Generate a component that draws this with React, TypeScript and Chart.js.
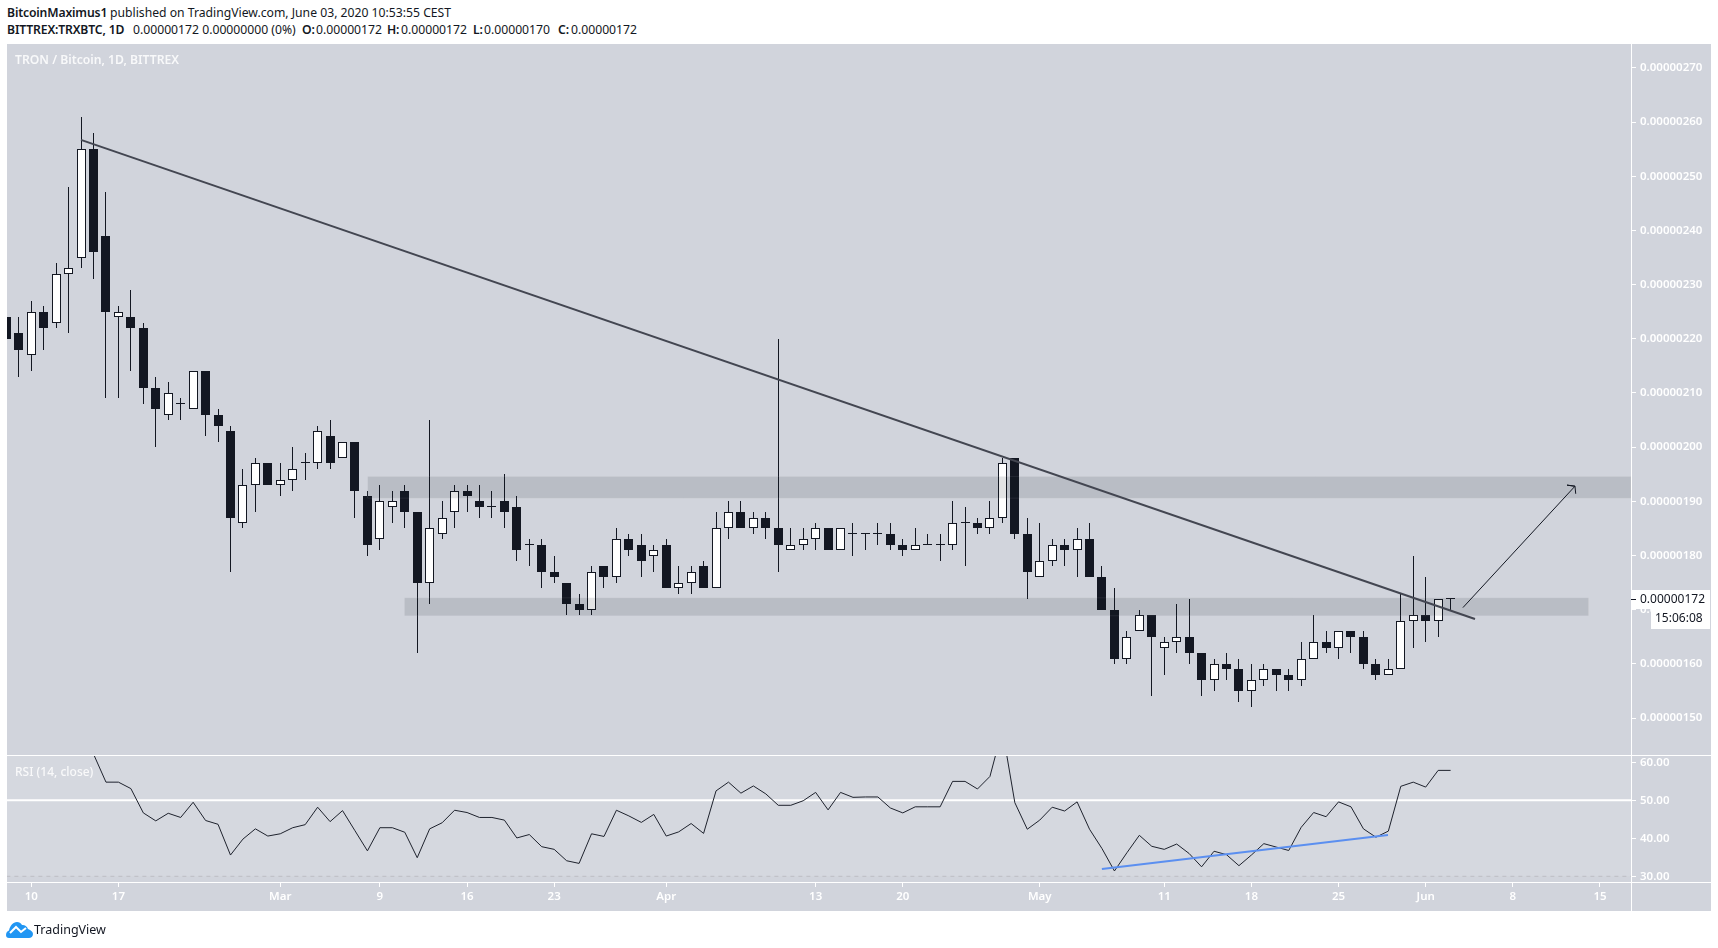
import React, { useEffect, useRef } from "react";
import { Chart, registerables } from "chart.js";

Chart.register(...registerables);

// All prices are in units of 0.00000001 BTC. Day 0 = 10 Feb 2020.
const firstDay = -2;
const opens = [224,221,217,225,223,232,235,255,239,224,224,222,211,206,208,207,214,206,203,186,193,197,193,194,197,197,202,198,201,191,183,189,192,188,175,184,188,192,190,189,190,189,182,182,177,175,171,170,178,176,183,182,180,182,174,175,178,174,185,188,185,187,185,181,182,183,185,181,184,184,184,184,182,181,182,182,182,186,186,185,187,198,184,176,179,182,181,183,176,170,161,166,169,163,164,165,162,157,160,159,155,157,159,158,157,161,164,163,166,165,160,158,159,168,169,168,172];
const highs = [225,224,227,226,234,248,261,258,247,226,229,223,213,212,209,214,214,207,204,196,198,197,197,200,199,204,205,201,201,192,193,192,193,188,205,190,193,193,193,192,195,191,183,183,180,175,173,178,178,185,184,184,182,183,178,178,179,188,190,190,188,188,220,185,185,186,185,185,186,184,186,186,183,185,184,184,190,189,187,190,198,198,187,186,183,183,185,186,178,174,166,170,169,165,171,172,162,161,162,161,160,160,159,159,164,169,166,166,166,166,161,161,173,180,176,172,172];
const lows = [217,213,214,218,222,221,233,231,209,209,214,208,200,205,205,207,202,201,177,185,188,193,191,192,194,196,196,198,187,180,181,186,185,162,171,183,185,188,187,187,185,179,178,174,175,169,169,169,174,175,180,176,177,174,173,173,174,174,183,185,184,183,177,181,181,181,181,181,180,181,182,181,180,181,182,179,181,178,184,184,186,183,172,176,178,178,176,176,170,160,160,166,154,158,162,160,154,155,157,153,152,156,155,155,156,161,162,161,162,159,157,158,159,163,164,165,170];
const closes = [220,218,225,222,232,233,255,236,225,225,222,211,207,210,208,214,206,204,187,193,197,193,194,196,197,203,197,201,192,182,190,190,188,175,185,187,192,191,189,189,188,181,182,177,176,171,170,177,176,183,181,179,181,174,175,177,174,185,188,185,187,185,182,182,183,185,181,185,184,184,184,182,181,182,182,182,186,186,185,187,197,184,177,179,182,181,183,176,170,161,165,169,165,164,165,162,157,160,159,155,157,159,158,157,161,164,163,166,165,160,158,159,168,169,168,172,172];

const rsiFirstDay = 4;
const rsiValues = [71,62.2,54.8,54.8,53.1,46.7,44.6,46.6,45.5,49.5,44.7,43.7,35.6,39.8,42.5,40.6,41.2,42.8,43.6,48.2,44.4,47.3,42,36.7,42.8,42.8,41.6,34.9,42.5,44.1,47.4,46.8,45.5,45.5,44.8,40.1,41,37.8,37.1,34.1,33.4,41.2,40.5,47.4,45.9,44.2,46.3,40.6,41.7,43.9,41.3,52.5,54.8,51.9,53.8,51.7,48.7,48.7,49.9,52.1,47.5,52.1,50.8,50.9,50.9,48,46.7,48.3,48.3,48.3,55,55,53,56.3,68.7,49.4,42.4,44.8,48.2,47.2,49.6,42.4,37.3,31.4,36.2,40.8,37.9,37.1,38.5,36,32.5,36.6,35.7,32.8,35.6,38.6,37.7,36.8,42.9,46.8,45.7,49.6,48.3,42.5,40.3,41.9,53.7,54.8,53.5,57.9,57.9];

const dayTicks = [0,7,20,28,35,42,51,63,70,81,91,98,105,112,119,126];
const dayLabels = ["10","17","Mar","9","16","23","Apr","13","20","May","11","18","25","Jun","8","15"];
const priceTicks = [150,160,170,180,190,200,210,220,230,240,250,260,270];
const rsiTicks = [30,40,50,60];

// Drawings, as [day, price] pairs
const resistanceLine = [[3.99,256.7],[115.96,168.3]];
const arrowPath = [[114.99,170.4],[123.99,192.8],[123.35,193],[123.99,192.8],[124.05,191.4]];
const rsiSupportLine = [[85.99,31.9],[108.97,40.9]];
const upperZone = { from: 27, to: 128.5, top: 194.6, bottom: 190.6 };
const lowerZone = { from: 29.96, to: 125.1, top: 172.2, bottom: 168.9 };

const lastPrice = 172;
const countdown = "15:06:08";
const watermark = "TRON / Bitcoin, 1D, BITTREX";
const rsiTitle = "RSI (14, close)";

const BG = "#d1d4dc";
const INK = "#131722";
const FONT = "'Noto Sans', sans-serif";
const axisFont = { family: "'Noto Sans', sans-serif", size: 11.5, weight: "600" as const };

const fmtPrice = (p: number) => (p / 1e8).toFixed(8);
const toXY = (pairs: number[][]) => pairs.map(([x, y]) => ({ x, y }));
const zoneOutline = (z: typeof upperZone) => toXY([[z.from,z.top],[z.to,z.top],[z.to,z.bottom],[z.from,z.bottom],[z.from,z.top]]);

const plain = { pointRadius: 0, tension: 0, xAxisID: "x", type: "line" as const, pointHoverRadius: 0 };

const crispBars = {
  id: "crispBars",
  afterDatasetsUpdate(chart: any) {
    chart.getSortedVisibleDatasetMetas().forEach((m: any) => {
      if (m.type !== "bar") return;
      m.data.forEach((b: any) => {
        b.x = Math.floor(b.x) + 0.5;
        b.y = Math.round(b.y);
        b.base = Math.round(b.base);
      });
    });
  },
};

const paint = {
  id: "paint",
  beforeDraw(chart: any) {
    const { ctx, chartArea: a } = chart;
    ctx.save();
    ctx.fillStyle = BG;
    ctx.fillRect(a.left, a.top, 1711 - a.left, 911 - a.top);
    ctx.restore();
  },
  afterDraw(chart: any) {
    const { ctx, chartArea: a, scales } = chart;
    const sep = Math.round(scales.y.bottom);
    ctx.save();
    ctx.fillStyle = "#ffffff";
    ctx.fillRect(a.left, sep, 1711 - a.left, 1);
    ctx.fillRect(a.left, Math.round(a.bottom), 1711 - a.left, 1);
    ctx.fillRect(Math.round(a.right), a.top, 1, 911 - a.top);

    ctx.textBaseline = "middle";
    ctx.textAlign = "left";
    ctx.fillStyle = "rgba(255,255,255,0.85)";
    ctx.font = `600 12.2px ${FONT}`;
    ctx.fillText(watermark, 15, 61);
    ctx.font = `500 12px ${FONT}`;
    ctx.fillText(rsiTitle, 15, 773);

    const py = Math.round(scales.y.getPixelForValue(lastPrice));
    const ax = Math.round(a.right) + 1;
    ctx.fillStyle = "#ffffff";
    ctx.fillRect(ax - 1, py - 9, 1710 - ax + 1, 19);
    ctx.fillRect(1651, py + 10, 59, 20);
    ctx.fillStyle = INK;
    ctx.fillRect(ax - 1, py, 5, 1);
    ctx.font = `400 12px ${FONT}`;
    ctx.fillText(fmtPrice(lastPrice), 1640, py + 1);
    ctx.fillText(countdown, 1655, py + 20);
    ctx.restore();
  },
};

export default function App() {
  const ref = useRef<HTMLCanvasElement>(null);

  useEffect(() => {
    const xs = opens.map((_, i) => firstDay + i);
    const chart = new Chart(ref.current as HTMLCanvasElement, {
      type: "bar",
      data: {
        datasets: [
          { ...plain, label: "Resistance", order: 0, yAxisID: "y", data: toXY(resistanceLine), borderColor: "#434651", borderWidth: 2 },
          { ...plain, label: "Arrow", order: 0, yAxisID: "y", data: toXY(arrowPath), borderColor: INK, borderWidth: 1 },
          { ...plain, label: "Upper zone", order: 1, yAxisID: "y", data: toXY([[upperZone.from,upperZone.top],[upperZone.to,upperZone.top]]), borderWidth: 0, borderColor: "transparent", backgroundColor: "rgba(19,23,34,0.12)", fill: { value: upperZone.bottom } },
          { ...plain, label: "Lower zone", order: 1, yAxisID: "y", data: toXY([[lowerZone.from,lowerZone.top],[lowerZone.to,lowerZone.top]]), borderWidth: 0, borderColor: "transparent", backgroundColor: "rgba(19,23,34,0.12)", fill: { value: lowerZone.bottom } },
          { ...plain, label: "Upper zone edge", order: 1, yAxisID: "y", data: zoneOutline(upperZone), borderWidth: 1, borderColor: "rgba(255,255,255,0.08)" },
          { ...plain, label: "Lower zone edge", order: 1, yAxisID: "y", data: zoneOutline(lowerZone), borderWidth: 1, borderColor: "rgba(255,255,255,0.08)" },
          {
            label: "Body", order: 2, yAxisID: "y", xAxisID: "x",
            data: xs.map((x, i) => ({ x, y: [opens[i], closes[i]] })) as any,
            backgroundColor: xs.map((_, i) => (closes[i] > opens[i] ? "#ffffff" : INK)),
            borderColor: INK, borderWidth: 1, borderSkipped: false, barThickness: 9, minBarLength: 1, grouped: false, inflateAmount: 0,
          },
          {
            label: "Wick", order: 3, yAxisID: "y", xAxisID: "x",
            data: xs.map((x, i) => ({ x, y: [lows[i], highs[i]] })) as any,
            backgroundColor: INK, borderWidth: 0, barThickness: 1, grouped: false, inflateAmount: 0,
          },
          { ...plain, label: "RSI", order: 4, yAxisID: "rsi", data: rsiValues.map((y, i) => ({ x: rsiFirstDay + i, y })), borderColor: "#1e222d", borderWidth: 1 },
          { ...plain, label: "RSI support", order: 3.5, yAxisID: "rsi", data: toXY(rsiSupportLine), borderColor: "#5b8ff0", borderWidth: 2 },
          { ...plain, label: "RSI 50", order: 5, yAxisID: "rsi", data: toXY([[-2,50],[129,50]]), borderColor: "#ffffff", borderWidth: 2 },
          { ...plain, label: "RSI 30", order: 5, yAxisID: "rsi", data: toXY([[-2,30],[129,30]]), borderColor: "#bcbec4", borderWidth: 1, borderDash: [4, 4] },
          { ...plain, label: "RSI band", order: 6, yAxisID: "rsi", data: toXY([[-2,70],[129,70]]), borderWidth: 0, borderColor: "transparent", backgroundColor: "rgba(255,255,255,0.1)", fill: { value: 30 } },
        ] as any,
      },
      options: {
        animation: false,
        responsive: false,
        devicePixelRatio: 1,
        layout: { autoPadding: false, padding: { left: 7, top: 44, right: 7, bottom: 37 } },
        plugins: { legend: { display: false }, tooltip: { enabled: false }, title: { display: false } },
        events: [],
        scales: {
          x: {
            type: "linear", min: -1.95, max: 128.49, offset: false,
            grid: { display: true, offset: false, drawOnChartArea: false, drawTicks: true, tickLength: 5, color: "#ffffff" },
            border: { display: false },
            afterFit: (s: any) => { s.height = 29; },
            afterBuildTicks: (s: any) => { s.ticks = dayTicks.map((value) => ({ value })); },
            ticks: {
              autoSkip: false, maxRotation: 0, minRotation: 0, padding: 3, color: "#ffffff", font: axisFont,
              callback: (v: any) => dayLabels[dayTicks.indexOf(v)] ?? "",
            },
          },
          y: {
            type: "linear", position: "right", stack: "panes", stackWeight: 711, min: 143.2, max: 274.4,
            grid: { display: true, drawOnChartArea: false, drawTicks: true, tickLength: 5, color: "#ffffff" },
            border: { display: false },
            afterFit: (s: any) => { s.width = 80; },
            afterBuildTicks: (s: any) => { s.ticks = priceTicks.map((value) => ({ value })); },
            ticks: { autoSkip: false, padding: 4, color: "#ffffff", font: axisFont, callback: (v: any) => fmtPrice(v) },
          },
          rsi: {
            type: "linear", position: "right", stack: "panes", stackWeight: 127, min: 28.5, max: 61.95,
            grid: { display: true, drawOnChartArea: false, drawTicks: true, tickLength: 5, color: "#ffffff" },
            border: { display: false },
            afterFit: (s: any) => { s.width = 80; },
            afterBuildTicks: (s: any) => { s.ticks = rsiTicks.map((value) => ({ value })); },
            ticks: { autoSkip: false, padding: 4, color: "#ffffff", font: axisFont, callback: (v: any) => Number(v).toFixed(2) },
          },
        },
      } as any,
      plugins: [crispBars, paint],
    });
    return () => chart.destroy();
  }, []);

  const t = (left: number, top: number, text: string, bold = false) => (
    <span style={{ position: "absolute", left, top, whiteSpace: "pre", fontWeight: bold ? 600 : 400, letterSpacing: bold ? "-0.15px" : undefined }}>{text}</span>
  );

  return (
    <div style={{ position: "absolute", left: 0, top: 0, width: 1718, height: 948, background: "#fff", overflow: "hidden", fontFamily: FONT, fontSize: 12.2, lineHeight: "16px", color: INK }}>
      {t(7, 5, "BitcoinMaximus1", true)}
      {t(110, 5, "published on TradingView.com, June 03, 2020 10:53:55 CEST")}
      {t(7, 22, "BITTREX:TRXBTC, 1D", true)}
      {t(133, 22, "0.00000172 0.00000000 (0%)")}
      {t(302, 22, "O:", true)}{t(316, 22, "0.00000172")}
      {t(387, 22, "H:", true)}{t(401, 22, "0.00000172")}
      {t(473, 22, "L:", true)}{t(484, 22, "0.00000170")}
      {t(558, 22, "C:", true)}{t(571, 22, "0.00000172")}
      <canvas ref={ref} width={1718} height={948} style={{ position: "absolute", left: 0, top: 0, display: "block" }} />
      <svg width="27" height="16" viewBox="0 0 27 16" style={{ position: "absolute", left: 6, top: 922 }}>
        <path d="M0 13 C0 10 2 9 3 8.5 C4 4 7 0 11 0 C13 0 15 1 16 3 C18 2.5 21 4 22 7 C25 8 27 10 27 12 C27 14.5 25 16 23 16 L3 16 C1 16 0 15 0 13 Z" fill="#2196f3" />
        <path d="M4 11 L10 5 L15 10 L20 6" fill="none" stroke="#fff" strokeWidth="2" />
      </svg>
      <span style={{ position: "absolute", left: 34, top: 922, fontSize: 12.5, color: "#131722" }}>TradingView</span>
    </div>
  );
}
